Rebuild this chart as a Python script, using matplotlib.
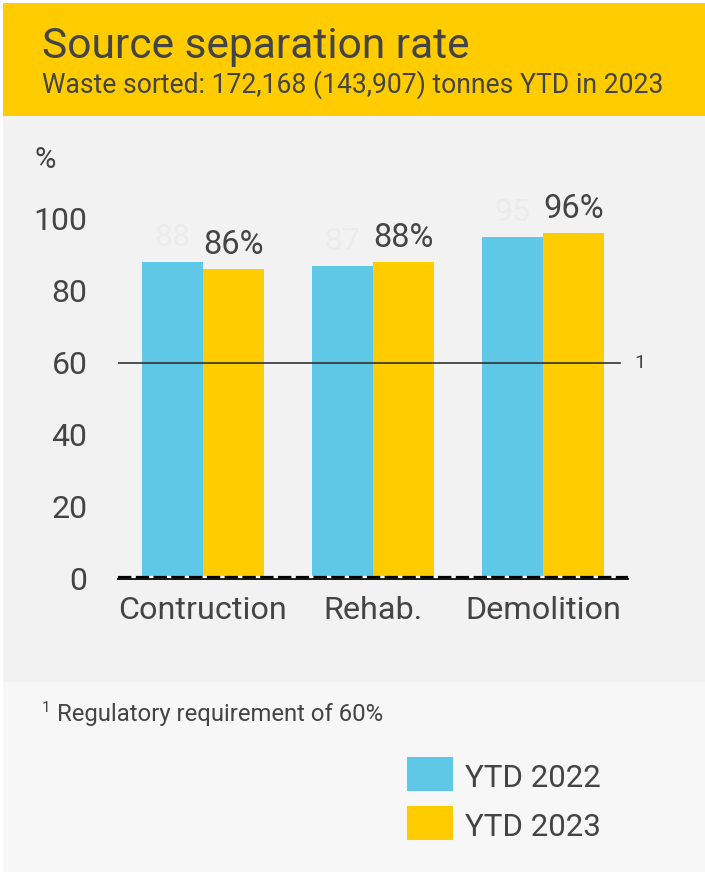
import matplotlib
matplotlib.use("Agg")
import matplotlib.pyplot as plt
import matplotlib.transforms as mtransforms
from matplotlib.patches import Rectangle
import numpy as np

plt.rcParams['font.family'] = ['Roboto', 'DejaVu Sans']

categories = ["Contruction", "Rehab.", "Demolition"]
ytd_2022 = [88, 87, 95]
ytd_2023 = [86, 88, 96]
series_names = ["YTD 2022", "YTD 2023"]
yticks = [0, 20, 40, 60, 80, 100]
requirement = 60

title = "Source separation rate"
subtitle = "Waste sorted: 172,168 (143,907) tonnes YTD in 2023"
footnote = "Regulatory requirement of 60%"

BLUE = "#5fc8e6"
YELLOW = "#ffcc00"
TXT = "#444444"

W, H = 705, 875
fig = plt.figure(figsize=(W / 100, H / 100), dpi=100)
fig.patch.set_facecolor("white")

def fx(x):
    return x / W

def fy(y):
    return 1 - y / H

# backgrounds
for (y0, y1, col) in [(3, 116, YELLOW), (116, 682, "#f2f2f2"), (682, 872, "#f7f7f7")]:
    fig.patches.append(Rectangle((fx(3), fy(y1)), fx(702), (y1 - y0) / H, transform=fig.transFigure,
                                 facecolor=col, edgecolor="none", zorder=-5))

fig.text(fx(42), fy(58), title, fontsize=30.6, color=TXT, va="baseline", ha="left")
fig.text(fx(42), fy(93), subtitle, fontsize=19.1, color=TXT, va="baseline", ha="left")

ax = fig.add_axes([fx(118), fy(578), 510 / W, 359 / H])
ax.set_facecolor("none")
x = np.arange(len(categories))
bw = 0.36
b1 = ax.bar(x - bw / 2, ytd_2022, bw, color=BLUE, zorder=2)
b2 = ax.bar(x + bw / 2, ytd_2023, bw, color=YELLOW, zorder=2)

for rect, v in zip(b1, ytd_2022):
    ax.annotate(f"{v}", (rect.get_x() + rect.get_width() / 2, v), xytext=(0, 7),
                textcoords="offset points", ha="center", va="bottom",
                fontsize=23, color="#ebebeb", annotation_clip=False)
for rect, v in zip(b2, ytd_2023):
    ax.annotate(f"{v}%", (rect.get_x() + rect.get_width() / 2, v), xytext=(0, 6),
                textcoords="offset points", ha="center", va="bottom",
                fontsize=23.5, color=TXT, annotation_clip=False)

ax.set_xlim(-0.5, 2.5)
ax.set_ylim(0, 100)
for s in ax.spines.values():
    s.set_visible(False)
ax.set_yticks(yticks)
ax.set_yticklabels([str(t) for t in yticks])
ax.set_xticks(x)
ax.set_xticklabels(categories)
ax.tick_params(axis="both", length=0, labelcolor=TXT)
ax.tick_params(axis="y", pad=22, labelsize=23)
ax.tick_params(axis="x", pad=13, labelsize=23.3)

# requirement line
ax.axhline(requirement, xmin=0, xmax=502 / 510, color="#333333", lw=1.2, zorder=3)
ax.text(1.0 + 6 / 510, requirement, "1", transform=ax.get_yaxis_transform(),
        ha="left", va="center", fontsize=14, color=TXT)

# baseline: solid + dashed
off_down = mtransforms.offset_copy(ax.get_yaxis_transform(), fig=fig, x=0, y=-1.0, units="dots")
off_up = mtransforms.offset_copy(ax.get_yaxis_transform(), fig=fig, x=0, y=1.2, units="dots")
ax.plot([0, 1], [0, 0], transform=off_down, color="black", lw=1.3, zorder=4, clip_on=False)
ax.plot([0, 1], [0, 0], transform=off_up, color="black", lw=1.6, zorder=4, clip_on=False,
        linestyle=(0, (6, 2)), gapcolor="white")

fig.text(fx(35), fy(168), "%", fontsize=21, color=TXT, va="baseline", ha="left")

# footnote
fig.text(fx(42), fy(712), "1", fontsize=11, color=TXT, va="baseline", ha="left")
fig.text(fx(57), fy(721), footnote, fontsize=17.2, color=TXT, va="baseline", ha="left")

# legend
for i, (name, col) in enumerate(zip(series_names, [BLUE, YELLOW])):
    top = 757 + i * 49
    fig.patches.append(Rectangle((fx(407), fy(top + 34)), 46 / W, 34 / H, transform=fig.transFigure,
                                 facecolor=col, edgecolor="none", zorder=1))
    fig.text(fx(465), fy(top + 30), name, fontsize=22.5, color=TXT, va="baseline", ha="left")

fig.savefig("out.png", dpi=100)
